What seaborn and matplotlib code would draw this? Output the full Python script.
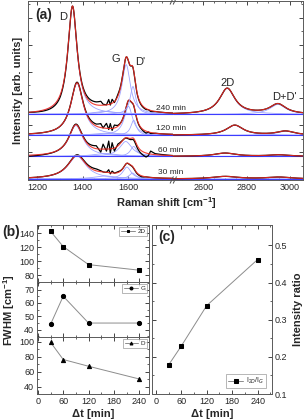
import numpy as np
import pandas as pd
import seaborn as sns
import matplotlib.pyplot as plt

# panel (b) / (c) data
times = [30, 60, 120, 240]
fwhm_2d = [143, 121, 95, 87]
fwhm_g = [44, 65, 45, 45]
fwhm_d = [99, 76, 67, 50]
ratio_2d_g = [0.178, 0.229, 0.338, 0.462]

# panel (a): fitted Lorentzian components, order D, D'', G, D', 2D, D+D'
spec_labels = ['30 min', '60 min', '120 min', '240 min']
offsets = [0, 22.7, 44, 65]
peak_pos = [[1375, 1500, 1595, 1620, 2700, 2950],
            [1370, 1500, 1590, 1625, 2700, 2950],
            [1375, 1500, 1602, 1625, 2745, 2980],
            [1355, 1500, 1592, 1622, 2710, 2945]]
peak_fwhm = [[98, 120, 44, 35, 143, 140],
             [76, 120, 65, 35, 121, 120],
             [67, 120, 45, 30, 95, 100],
             [50, 120, 45, 30, 87, 90]]
peak_height = [[23, 3, 12, 6, 2.5, 1.8],
               [31, 3, 15, 10, 3.3, 1.5],
               [52, 2, 29, 15, 10, 4],
               [108, 3, 50, 28, 26, 10]]

# measured minus fit, read by eye (noisy region around 1500)
resid_x = [1160, 1300, 1420, 1460, 1480, 1490, 1505, 1515, 1522, 1530, 1540,
           1555, 1580, 1660, 1680, 1690, 1700, 1720, 1800]
resid_y = [[0, 0, 1, 2, 1, 0, 0, 3, -1, 2, 0, 1, 0, -1, 0, 0, 0, 0, 0],
           [-1, 0, 1, 3, -3, 5, -2, 8, -4, 6, -3, 2, 0, -3, -4, -2, 3, 1, 0],
           [0, 0, 1, 2, 4, 0, 5, -1, 5, -2, 3, 1, 0, -1, -2, 0, -1, 0, 0],
           [0, -2, 2, 3, 4, 1, 0, 5, -1, 4, -1, 2, 0, -1, -1, 0, -1, 0, 0]]

sns.set_style('ticks')
plt.rcParams['font.family'] = ['Liberation Sans', 'DejaVu Sans']
plt.rcParams['mathtext.fontset'] = 'custom'
plt.rcParams['mathtext.rm'] = 'Liberation Sans'
plt.rcParams['mathtext.bf'] = 'Liberation Sans:bold'

W, H = 304, 419
fig = plt.figure(figsize=(W / 100, H / 100), dpi=100)


def rect(l, t, r, b):
    return [l / W, 1 - b / H, (r - l) / W, (b - t) / H]


def lorentz(x, x0, w, h):
    g = (w / 2) ** 2
    return h * g / ((x - x0) ** 2 + g)


def style(ax, fs=6.5):
    ax.tick_params(which='both', direction='in', top=True, right=True, labelsize=fs, pad=2)
    ax.tick_params(which='major', length=3, width=0.6)
    ax.tick_params(which='minor', length=1.5, width=0.5)
    for s in ax.spines.values():
        s.set_linewidth(0.7)
        s.set_color('0.35')


# ---------- panel (a) ----------
axL = fig.add_axes(rect(28.3, 1, 173.3, 180))
axR = fig.add_axes(rect(173.3, 1, 302.7, 180), sharey=axL)
axR.patch.set_visible(False)
xl = np.arange(1160, 1801, 1.0)
xr = np.arange(2460, 3061, 1.0)

for ax, x in [(axL, xl), (axR, xr)]:
    for i, off in enumerate(offsets):
        fit = np.zeros_like(x)
        for p, w, h in zip(peak_pos[i], peak_fwhm[i], peak_height[i]):
            comp = lorentz(x, p, w, h)
            fit += comp
            ax.plot(x, off + comp, color='#9ea4ff', lw=0.6)
        meas = fit + np.interp(x, resid_x, resid_y[i], left=0, right=0)
        ax.axhline(off, color='#3d3dff', lw=0.8)
        ax.plot(x, off + meas, color='black', lw=0.9)
        ax.plot(x, off + fit, color='#ee2a20', lw=0.8, alpha=0.9)

axL.set_xlim(1160, 1800)
axR.set_xlim(2460, 3060)
axL.set_ylim(-1, 179)
for ax in (axL, axR):
    style(ax)
    ax.set_yticks(np.arange(0, 179, 27))
    ax.set_yticks(np.arange(0, 179, 13.5), minor=True)
    ax.tick_params(labelleft=False, labelright=False)
axL.spines['right'].set_visible(False)
axR.spines['left'].set_visible(False)
axL.tick_params(which='both', right=False)
axR.tick_params(which='both', left=False)
axL.set_xticks([1200, 1400, 1600])
axL.set_xticks(np.arange(1200, 1800, 50), minor=True)
axR.set_xticks([2600, 2800, 3000])
axR.set_xticks(np.arange(2500, 3060, 50), minor=True)

axL.set_ylabel('Intensity [arb. units]', fontsize=8, fontweight='bold', labelpad=2)
fig.text(166 / W, 1 - 203 / H, 'Raman shift [cm$^{\\mathbf{-1}}$]', fontsize=8,
         fontweight='bold', ha='center', va='center')

for lab, ypix in zip(spec_labels, [172, 150, 128, 108]):
    fig.text(171 / W, 1 - ypix / H, lab, fontsize=6, ha='center', va='center')
for ax_, xx, yy, t in [(axL, 1314, 163, 'D'), (axL, 1546, 121, 'G'), (axL, 1655, 118, "D'"),
                       (axR, 2710, 97, '2D'), (axR, 2975, 82, "D+D'")]:
    ax_.text(xx, yy, t, fontsize=8, ha='center', va='center', clip_on=False)
axL.text(0.05, 0.92, '(a)', transform=axL.transAxes, fontsize=10, fontweight='bold',
         ha='left', va='center')
# break marks
for yy in (0, 1):
    for dx in (-0.012, 0.012):
        axR.plot([dx - 0.012, dx + 0.012], [yy - 0.018, yy + 0.018], transform=axR.transAxes,
                 color='0.3', lw=0.7, clip_on=False)

# ---------- panel (b) ----------
b_rows = [(225, 282, fwhm_2d, 's', '2D', (76, 152), [80, 100, 120, 140], 10),
          (282, 337, fwhm_g, 'o', 'G', (34.6, 75.6), [40, 50, 60, 70], 5),
          (337, 394, fwhm_d, '^', 'D', (40, 106), [40, 60, 80, 100], 10)]
b_axes = []
for t, b, vals, mk, lab, yl, yt, ym in b_rows:
    ax = fig.add_axes(rect(37, t, 149, b))
    df = pd.DataFrame({'t': times, 'v': vals})
    sns.lineplot(data=df, x='t', y='v', ax=ax, color='0.55', lw=0.7, marker=mk,
                 ms=3, markerfacecolor='black', markeredgecolor='black', label=lab)
    ax.set_xlim(-2, 263)
    ax.set_ylim(*yl)
    ax.set_yticks(yt)
    ax.set_yticks(np.arange(yt[0] - ym, yl[1], ym), minor=True)
    ax.set_xticks([0, 60, 120, 180, 240])
    ax.set_xticks(np.arange(0, 263, 30), minor=True)
    ax.set_xlabel('')
    ax.set_ylabel('')
    style(ax)
    ax.legend(loc='upper right', fontsize=4.5, frameon=True, fancybox=False,
              edgecolor='0.5', handlelength=2.2, borderpad=0.3, handletextpad=0.4,
              borderaxespad=0.3, markerscale=0.7).get_frame().set_linewidth(0.5)
    b_axes.append(ax)
for ax in b_axes[:2]:
    ax.tick_params(labelbottom=False)
b_axes[2].set_xlabel('\u0394t [min]', fontsize=8, fontweight='bold', labelpad=2)
fig.text(9 / W, 1 - 310 / H, 'FWHM [cm$^{\\mathbf{-1}}$]', fontsize=8, fontweight='bold',
         rotation=90, ha='center', va='center')
fig.text(2 / W, 1 - 232 / H, '(b)', fontsize=10, fontweight='bold', ha='left', va='center')

# ---------- panel (c) ----------
axC = fig.add_axes(rect(152, 225, 272, 394))
dfc = pd.DataFrame({'t': times, 'r': ratio_2d_g})
sns.lineplot(data=dfc, x='t', y='r', ax=axC, color='0.55', lw=0.7, marker='s',
             ms=2.5, markerfacecolor='black', markeredgecolor='black',
             label='I$_{2D}$/I$_G$')
axC.set_xlim(-9, 274)
axC.set_ylim(0.1, 0.555)
axC.set_xticks([0, 60, 120, 180, 240])
axC.set_xticks(np.arange(0, 274, 30), minor=True)
axC.set_yticks([0.1, 0.2, 0.3, 0.4, 0.5])
axC.set_yticks(np.arange(0.15, 0.55, 0.1), minor=True)
style(axC)
axC.tick_params(labelleft=False, labelright=True)
axC.yaxis.set_label_position('right')
axC.set_ylabel('Intensity ratio', fontsize=8, fontweight='bold', labelpad=4)
axC.set_xlabel('\u0394t [min]', fontsize=8, fontweight='bold', labelpad=2)
axC.legend(loc='lower right', fontsize=5, frameon=True, fancybox=False,
           edgecolor='0.5', handlelength=2.2, borderpad=0.3, handletextpad=0.4,
           borderaxespad=0.8, markerscale=0.9).get_frame().set_linewidth(0.5)
axC.text(0.05, 0.93, '(c)', transform=axC.transAxes, fontsize=10, fontweight='bold',
         ha='left', va='center')

fig.savefig('out.png', dpi=100)
